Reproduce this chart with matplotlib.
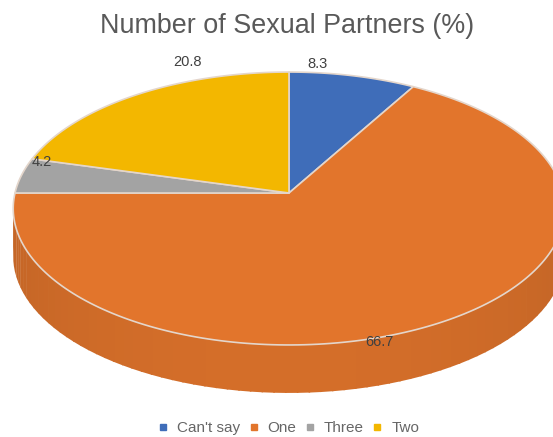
import matplotlib
matplotlib.use("Agg")
import matplotlib.pyplot as plt
from matplotlib.lines import Line2D
import numpy as np

categories = ["Can't say", "One", "Three", "Two"]
values = [8.3, 66.7, 4.2, 20.8]
colors = ["#3F6DB9", "#E2752C", "#A3A3A3", "#F3B700"]

CX, CY = 289, 193
RX, RY = 274, 134.7
PERSP = 0.1136
DEPTH = 48


def project(theta, r=1.0):
    # clockwise from 12 o'clock, disc tilted with a bit of perspective
    x = r * np.sin(theta)
    y = r * np.cos(theta)
    w = 1 + PERSP * y
    return CX + RX * x / w, CY - RY * y / w


plt.rcParams["font.family"] = ["Liberation Sans", "DejaVu Sans"]
fig = plt.figure(figsize=(5.53, 4.37), dpi=100)
ax = fig.add_axes([0, 0, 1, 1])
ax.set_xlim(0, 553)
ax.set_ylim(437, 0)
ax.axis("off")

edges = np.concatenate([[0], np.cumsum(values)]) / sum(values) * 2 * np.pi

# side wall, only the front part of the rim shows
wall = np.linspace(np.pi * 0.42, np.pi * 1.5, 90)
for t0, t1 in zip(wall[:-1], wall[1:]):
    x0, y0 = project(t0)
    x1, y1 = project(t1 + 0.005)
    shade = 0.87 + 0.07 * np.cos((t0 - np.pi) * 1.0) ** 2
    ax.fill([x0, x1, x1, x0], [y0, y1, y1 + DEPTH, y0 + DEPTH],
            color=np.array(matplotlib.colors.to_rgb(colors[1])) * shade, lw=0)

for start, stop, color in zip(edges[:-1], edges[1:], colors):
    t = np.linspace(start, stop, 200)
    x, y = project(t)
    ax.fill(np.r_[CX, x], np.r_[CY, y], facecolor=color,
            edgecolor="#E4D6CB", lw=1.2, joinstyle="round")

ax.text(287.5, 26, "Number of Sexual Partners (%)", ha="center", va="center",
        fontsize=19.4, color="#595959")

label_x = [318, 379, 42, 187]
label_y = [63.5, 342, 162, 62]
for lx, ly, v in zip(label_x, label_y, values):
    ax.text(lx, ly, f"{v}", ha="center", va="center", fontsize=10.5, color="#404040")

handles = [Line2D([], [], ls="", marker="s", ms=4, color=c) for c in colors]
ax.legend(handles, categories, loc="center", bbox_to_anchor=(288 / 553, 1 - 428 / 437),
          ncol=4, frameon=False, fontsize=11, labelcolor="#666666",
          handlelength=0.8, handletextpad=0.5, columnspacing=0.5, borderpad=0)

fig.savefig("out.png", dpi=100)
